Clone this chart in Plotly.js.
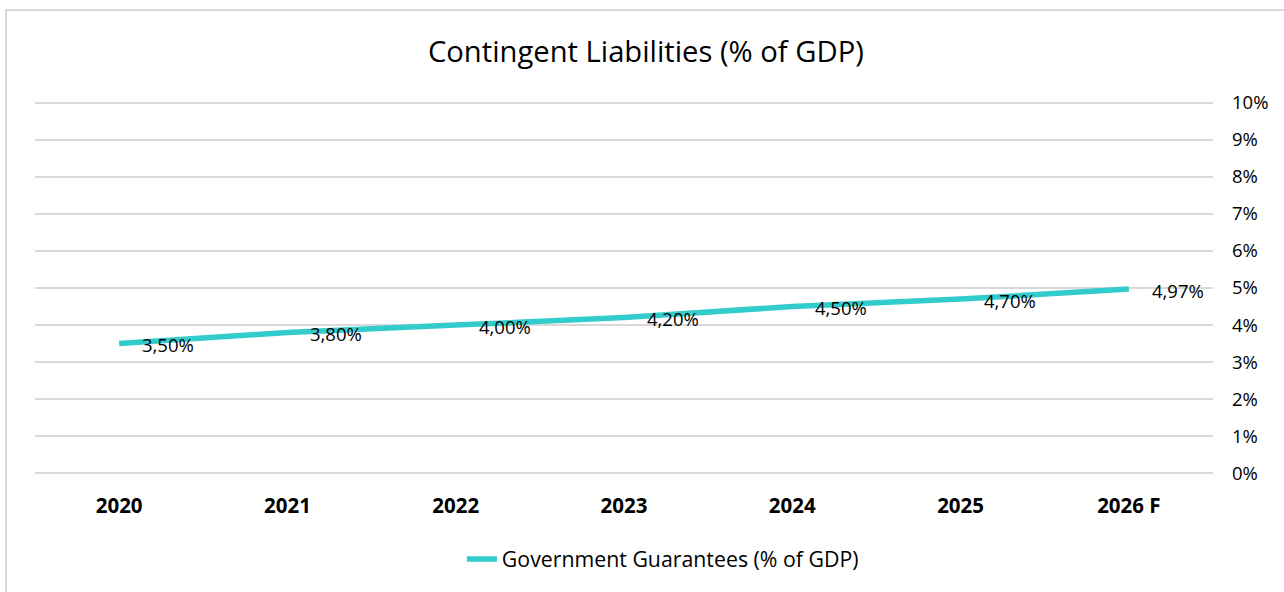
<!DOCTYPE html>
<html>
<head>
<meta charset="utf-8">
<script src="https://cdn.plot.ly/plotly-3.0.1.min.js"></script>
<style>
html,body{margin:0;padding:0;background:#fff;}
#wrap{position:relative;width:1284px;height:592px;overflow:hidden;}
#chart{position:absolute;left:0;top:0;width:1284px;height:592px;}
#frame{position:absolute;left:5px;top:9px;width:1400px;height:700px;border-left:2px solid #d9d9d9;border-top:2px solid #d9d9d9;pointer-events:none;}
</style>
</head>
<body>
<div id="wrap"><div id="chart"></div><div id="frame"></div></div>
<script>
const categories = ["2020", "2021", "2022", "2023", "2024", "2025", "2026 F"];
const guarantees = [3.50, 3.80, 4.00, 4.20, 4.50, 4.70, 4.97];
const labels = ["3,50%", "3,80%", "4,00%", "4,20%", "4,50%", "4,70%", "4,97%"];
const yTickVals = [0, 1, 2, 3, 4, 5, 6, 7, 8, 9, 10];
const yTickText = ["0%", "1%", "2%", "3%", "4%", "5%", "6%", "7%", "8%", "9%", "10%"];

const FONT = "'Open Sans', 'Noto Sans', sans-serif";
const LINE_COLOR = "#33CCCC";

const trace = {
  x: categories,
  y: guarantees,
  type: "scatter",
  mode: "lines",
  name: "Government Guarantees (% of GDP)",
  line: {color: LINE_COLOR, width: 5.5},
  hoverinfo: "skip"
};

const annotations = categories.map((c, i) => ({
  x: i, y: guarantees[i], xref: "x", yref: "y",
  text: labels[i], showarrow: false,
  xanchor: "left", yanchor: "middle",
  xshift: 21, yshift: -1,
  font: {family: FONT, size: 18.5, color: "#000"}
}));

const layout = {
  width: 1284, height: 592,
  margin: {l: 35, r: 71, t: 101, b: 112, pad: 0},
  paper_bgcolor: "#fff", plot_bgcolor: "#fff",
  font: {family: FONT, color: "#000"},
  title: {text: "Contingent Liabilities (% of GDP)", font: {family: FONT, size: 29.2, color: "#000"},
          x: 0.503, xanchor: "center", y: 0.912, yanchor: "middle", yref: "container"},
  showlegend: true,
  legend: {orientation: "h", x: 0.533, xanchor: "center", y: -0.17, yanchor: "top",
           font: {family: FONT, size: 21.3, color: "#000"}},
  xaxis: {type: "category", range: [-0.5, 6.5], showgrid: false, zeroline: false,
          showline: false, ticks: "", ticklabelstandoff: 16,
          tickfont: {family: FONT, size: 20.5, color: "#000", weight: "bold"}},
  yaxis: {side: "right", range: [-0.05, 10.05], tickvals: yTickVals, ticktext: yTickText,
          showgrid: true, gridcolor: "#d9d9d9", gridwidth: 2, zeroline: false, showline: false,
          ticks: "", ticklabelstandoff: 18, tickfont: {family: FONT, size: 18.5, color: "#000"}},
  annotations: annotations
};

Plotly.newPlot("chart", [trace], layout, {displayModeBar: false, staticPlot: true});
</script>
</body>
</html>
